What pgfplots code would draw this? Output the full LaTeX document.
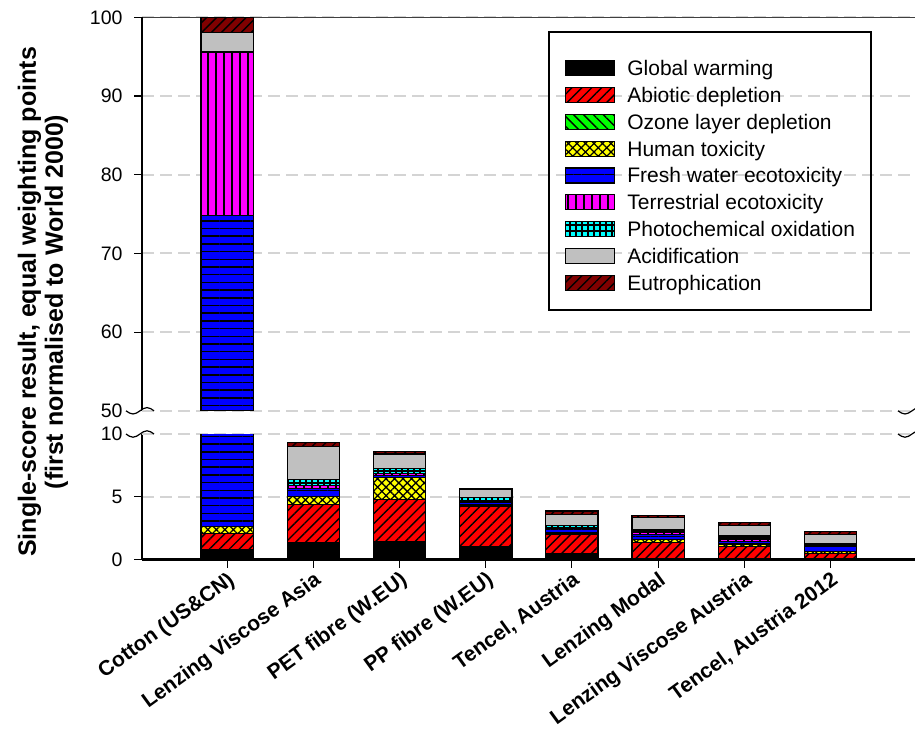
\documentclass[border=0pt]{standalone}
\usepackage{pgfplots}
\pgfplotsset{compat=1.18}
\usepackage{pgfplotstable}
\usetikzlibrary{patterns.meta}
\usepackage{fontspec}
\setmainfont{Liberation Sans}

\definecolor{cAD}{HTML}{FF0000}
\definecolor{cOZ}{HTML}{00FF00}
\definecolor{cHT}{HTML}{FFFF00}
\definecolor{cFW}{HTML}{0000FF}
\definecolor{cTE}{HTML}{FF00FF}
\definecolor{cPO}{HTML}{00FFFF}
\definecolor{cAC}{HTML}{C0C0C0}
\definecolor{cEU}{HTML}{800000}
\definecolor{gridc}{HTML}{D4D4D4}

% GW AD OZ HT FW TE PO AC EU
\pgfplotstableread{
x GW AD OZ HT FW TE PO AC EU
0 0.80 1.25 0.02 0.55 72.20 20.70 0.10 2.40 1.98
1 1.31 3.08 0.01 0.60 0.65 0.24 0.47 2.63 0.31
2 1.42 3.38 0.01 1.71 0.16 0.16 0.39 1.18 0.18
3 1.02 3.23 0.01 0.12 0.20 0.12 0.25 0.60 0.10
4 0.45 1.52 0.01 0.13 0.34 0.12 0.15 0.89 0.26
5 0.10 1.26 0.01 0.20 0.45 0.13 0.25 0.94 0.15
6 0.10 0.95 0.01 0.18 0.20 0.20 0.30 0.80 0.20
7 0.05 0.42 0.01 0.17 0.40 0.10 0.15 0.72 0.21
}\datatable

% only the bar that reaches the upper panel
\pgfplotstableread{
x GW AD OZ HT FW TE PO AC EU
0 0.80 1.25 0.02 0.55 72.20 20.70 0.10 2.40 1.98
}\cottontable

\pgfplotsset{
  common/.style={
    scale only axis, width=773pt,
    xmin=-0.988, xmax=7.98,
    ybar stacked, bar width=52.3pt,
    tick align=outside, major tick length=8pt,
    tick style={black, line width=1.1pt},
    ymajorgrids,
    major grid style={draw=gridc, line width=1.8pt, dash pattern=on 12pt off 6pt},
    tick label style={font=\fontsize{19.5}{22}\selectfont},
    yticklabel style={xshift=-8pt},
    /pgf/number format/assume math mode=true,
    extra y tick style={major tick style={draw=none}},
    every axis plot/.append style={draw=black, line width=1.2pt},
  },
  sGW/.style={fill=black},
  sAD/.style={fill=cAD, postaction={pattern color=black, pattern={Lines[angle=45,distance=7pt,line width=1.4pt]}}},
  sOZ/.style={fill=cOZ, postaction={pattern color=black, pattern={Lines[angle=-45,distance=7pt,line width=1.4pt]}}},
  sHT/.style={fill=cHT, postaction={pattern color=black, pattern={Hatch[angle=45,distance=6pt,line width=1.3pt]}}},
  sFW/.style={fill=cFW, postaction={pattern color=black, pattern={Lines[angle=0,distance=7.7pt,line width=1.5pt]}}},
  sTE/.style={fill=cTE, postaction={pattern color=black, pattern={Lines[angle=90,distance=8pt,line width=1.5pt]}}},
  sPO/.style={fill=cPO, postaction={pattern color=black, pattern={Hatch[angle=0,distance=6pt,line width=1.2pt]}}},
  sAC/.style={fill=cAC},
  sEU/.style={fill=cEU, postaction={pattern color=black, pattern={Lines[angle=45,distance=7pt,line width=1.4pt]}}},
}

\begin{document}
\begin{tikzpicture}[x=1pt,y=1pt]
\path[use as bounding box] (0,0) rectangle (915,729);

% lower axis (0 to 10)
\begin{axis}[common,
  name=lower, at={(142pt,169.5pt)}, anchor=south west,
  height=125.5pt, ymin=0, ymax=10,
  axis x line*=bottom, axis y line*=left,
  x axis line style={line width=2.4pt},
  y axis line style={line width=1.4pt},
  ytick={0,5}, extra y ticks={10},
  xtick={0,...,7},
  xticklabels={Cotton (US\&CN), Lenzing Viscose Asia, PET fibre (W.EU), PP fibre (W.EU), {Tencel, Austria}, Lenzing Modal, Lenzing Viscose Austria, {Tencel, Austria 2012}},
  xticklabel style={rotate=36, anchor=north east, inner sep=2pt, font=\bfseries\fontsize{21}{23}\selectfont},
]
\addplot[sGW] table[x=x,y=GW]{\datatable};
\addplot[sAD] table[x=x,y=AD]{\datatable};
\addplot[sOZ] table[x=x,y=OZ]{\datatable};
\addplot[sHT] table[x=x,y=HT]{\datatable};
\addplot[sFW] table[x=x,y=FW]{\datatable};
\addplot[sTE] table[x=x,y=TE]{\datatable};
\addplot[sPO] table[x=x,y=PO]{\datatable};
\addplot[sAC] table[x=x,y=AC]{\datatable};
\addplot[sEU] table[x=x,y=EU]{\datatable};
\end{axis}

% upper axis (50 to 100)
\begin{axis}[common,
  name=upper, at={(142pt,318.2pt)}, anchor=south west,
  height=393.5pt, ymin=50, ymax=100,
  axis x line*=top, axis y line*=left,
  x axis line style={line width=1.5pt, draw=black!75},
  y axis line style={line width=1.4pt},
  xtick=\empty,
  ytick={60,70,80,90,100}, extra y ticks={50},
  legend cell align=left,
  legend style={at={(axis description cs:0.5472,0.8915)}, anchor=north west,
    draw=none, fill=none, inner sep=0pt, row sep=6.7pt, column sep=12pt,
    font=\fontsize{21}{24}\selectfont,
    nodes={inner sep=0pt, text height=15pt, text depth=4.5pt}},
  legend image code/.code={\draw[#1] (0pt,-5.25pt) rectangle (49pt,9.75pt);},
]
\addplot[sGW] table[x=x,y=GW]{\cottontable};
\addplot[sAD] table[x=x,y=AD]{\cottontable};
\addplot[sOZ] table[x=x,y=OZ]{\cottontable};
\addplot[sHT] table[x=x,y=HT]{\cottontable};
\addplot[sFW] table[x=x,y=FW]{\cottontable};
\addplot[sTE] table[x=x,y=TE]{\cottontable};
\addplot[sPO] table[x=x,y=PO]{\cottontable};
\addplot[sAC] table[x=x,y=AC]{\cottontable};
\addplot[sEU] table[x=x,y=EU]{\cottontable};
\legend{Global warming, Abiotic depletion, Ozone layer depletion, Human toxicity, Fresh water ecotoxicity, Terrestrial ecotoxicity, Photochemical oxidation, Acidification, Eutrophication}
\end{axis}

% legend frame
\draw[line width=1.2pt] (549,697) rectangle (871,419);

% axis break marks
\foreach \yy in {318.2,295.0}{
  \draw[line width=1.2pt] (126,\yy) sin (133,\yy-3.2) cos (140,\yy) sin (147,\yy+3.2) cos (154,\yy);
  \draw[line width=1.2pt] (898,\yy) sin (905,\yy-3.2) cos (912,\yy) sin (919,\yy+3.2) cos (926,\yy);
}

% y label
\node[rotate=90, align=center, font=\bfseries\fontsize{25}{27}\selectfont] at (43,427)
  {Single-score result, equal weighting points\\(first normalised to World 2000)};
\end{tikzpicture}
\end{document}
